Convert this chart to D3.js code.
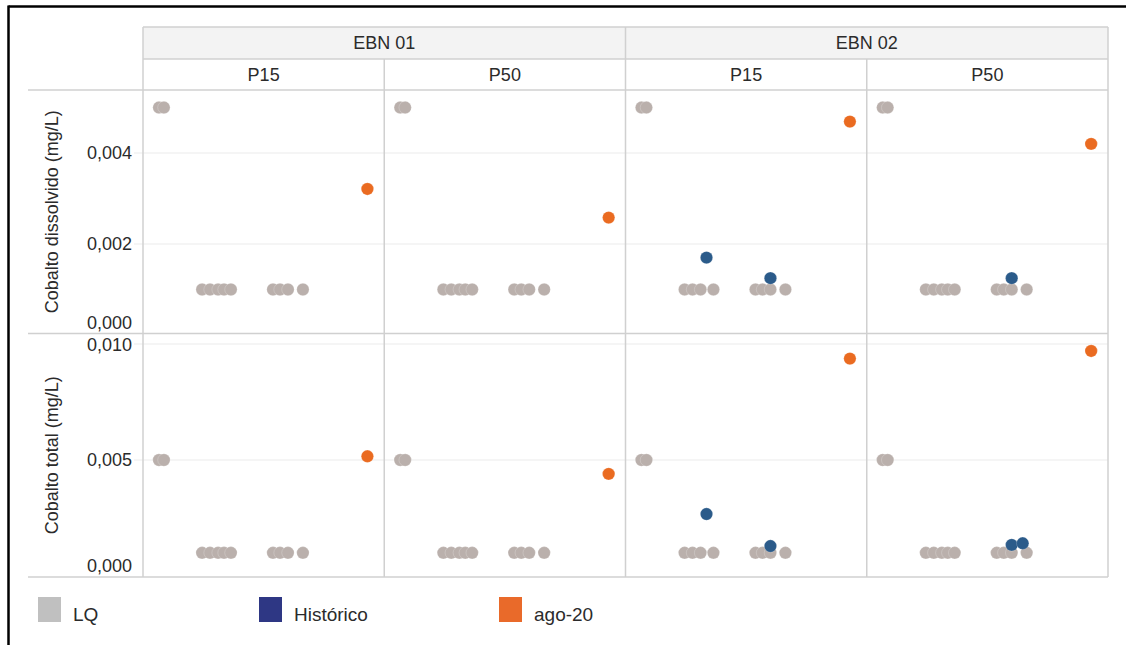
<!DOCTYPE html>
<html>
<head>
<meta charset="utf-8">
<script src="https://cdn.jsdelivr.net/npm/d3@7"></script>
<style>
  body { margin: 0; background: #fff; }
  svg { display: block; font-family: 'Liberation Sans', Arial, sans-serif; }
</style>
</head>
<body>
<script>
// facetas
const stations = ['EBN 01', 'EBN 02'];
const depths = ['P15', 'P50'];
const parameters = ['Cobalto dissolvido (mg/L)', 'Cobalto total (mg/L)'];
const seriesNames = ['LQ', 'Histórico', 'ago-20'];
const yTicks = [[0, 0.002, 0.004], [0, 0.005, 0.010]];

// limites de quantificação (LQ)
const lqHighDates = ['2015-05-26', '2015-07-10'];
const lqHighValue = 0.005;
const lqLowDates = ['2016-06-21', '2016-09-01', '2016-11-13', '2017-01-06', '2017-03-10',
  '2018-03-27', '2018-05-30', '2018-08-10', '2018-12-24'];
const lqLowValue = 0.001;
// datas sem LQ em cada painel (EBN01 P15, EBN01 P50, EBN02 P15, EBN02 P50)
const lqMissing = [[], [], ['2017-01-06'], []];

// resultados históricos acima do LQ
const histRow = [0, 0, 0, 1, 1, 1, 1];
const histPanel = [2, 2, 3, 2, 2, 3, 3];
const histDate = ['2017-01-06', '2018-08-10', '2018-08-10', '2017-01-06', '2018-08-10', '2018-08-10', '2018-11-18'];
const histValue = [0.0017, 0.00125, 0.00125, 0.00267, 0.00129, 0.00134, 0.00141];

// campanha ago-20
const ago20Date = '2020-08-01';
const ago20Values = [
  [0.00321, 0.00258, 0.00469, 0.0042],
  [0.00516, 0.0044, 0.00937, 0.0097]
];

const dotColor = { 'LQ': '#bab0ac', 'Histórico': '#2b5b8a', 'ago-20': '#ea6b21' };
const legendColor = { 'LQ': '#c0c0c0', 'Histórico': '#2e3784', 'ago-20': '#e96a2a' };

const W = 1126, H = 645;
const L = { left: 143, right: 1108, headTop: 27, subTop: 59, top: 90, mid: 333.5, bottom: 577, lineLeft: 28 };
const colW = (L.right - L.left) / 4;
const rowBounds = [[L.top, L.mid], [L.mid, L.bottom]];
const fontSize = 18;
const textColor = '#2b2b2b';
const lineColor = '#d0d0d0';
const gridColor = '#ececec';

const parse = d3.timeParse('%Y-%m-%d');
const svg = d3.select('body').append('svg').attr('width', W).attr('height', H);

const xScales = d3.range(4).map(i => d3.scaleTime(
  [new Date(2015, 0, 1), new Date(2021, 0, 1)],
  [L.left + i * colW, L.left + (i + 1) * colW]));
const yScales = [
  d3.scaleLinear([0, 0.005385], [335, L.top]),
  d3.scaleLinear([0, 0.010453], [576, L.mid])
];
const fmt = v => d3.format('.3f')(v).replace('.', ',');

// moldura
svg.append('line').attr('x1', 8.5).attr('x2', W).attr('y1', 6.5).attr('y2', 6.5)
  .attr('stroke', '#000').attr('stroke-width', 2.5);
svg.append('line').attr('x1', 8.5).attr('x2', 8.5).attr('y1', 5.5).attr('y2', H)
  .attr('stroke', '#000').attr('stroke-width', 2.5);

// cabeçalhos
const head = svg.append('g');
head.selectAll('rect.st')
  .data(stations)
  .join('rect')
    .attr('class', 'st')
    .attr('x', (d, i) => L.left + i * 2 * colW)
    .attr('y', L.headTop)
    .attr('width', 2 * colW)
    .attr('height', L.subTop - L.headTop)
    .attr('fill', '#f3f3f3');
head.selectAll('text.st')
  .data(stations)
  .join('text')
    .attr('class', 'st')
    .attr('x', (d, i) => L.left + (i * 2 + 1) * colW)
    .attr('y', (L.headTop + L.subTop) / 2)
    .attr('dy', '0.35em')
    .attr('text-anchor', 'middle')
    .attr('font-size', fontSize)
    .attr('fill', textColor)
    .text(d => d);
head.selectAll('text.dp')
  .data(d3.range(4))
  .join('text')
    .attr('class', 'dp')
    .attr('x', i => L.left + (i + 0.5) * colW)
    .attr('y', (L.subTop + L.top) / 2)
    .attr('dy', '0.35em')
    .attr('text-anchor', 'middle')
    .attr('font-size', fontSize)
    .attr('fill', textColor)
    .text(i => depths[i % 2]);

// grades
const grid = svg.append('g');
yTicks.forEach((ticks, r) => {
  const y = yScales[r];
  const [top, bottom] = rowBounds[r];
  grid.append('g')
    .selectAll('line')
    .data(ticks.filter(t => t > 0))
    .join('line')
      .attr('x1', L.left - 9).attr('x2', L.right)
      .attr('y1', d => y(d)).attr('y2', d => y(d))
      .attr('stroke', gridColor).attr('stroke-width', 1.2);
  grid.append('g')
    .selectAll('text')
    .data(ticks)
    .join('text')
      .attr('x', 132)
      .attr('y', d => Math.max(top + 11, Math.min(bottom - 11, y(d))))
      .attr('dy', '0.35em')
      .attr('text-anchor', 'end')
      .attr('font-size', fontSize)
      .attr('fill', textColor)
      .text(fmt);
  grid.append('text')
    .attr('transform', `translate(52,${(top + bottom) / 2}) rotate(-90)`)
    .attr('dy', '0.35em')
    .attr('text-anchor', 'middle')
    .attr('font-size', fontSize)
    .attr('fill', textColor)
    .text(parameters[r]);
});

// linhas dos painéis
const frame = svg.append('g').attr('stroke', lineColor).attr('stroke-width', 1.5);
[L.top, L.mid, L.bottom].forEach(y => frame.append('line')
  .attr('x1', L.lineLeft).attr('x2', L.right).attr('y1', y).attr('y2', y));
[L.headTop, L.subTop].forEach(y => frame.append('line')
  .attr('x1', L.left).attr('x2', L.right).attr('y1', y).attr('y2', y));
d3.range(5).forEach(i => frame.append('line')
  .attr('x1', L.left + i * colW).attr('x2', L.left + i * colW)
  .attr('y1', i % 2 === 0 ? L.headTop : L.subTop).attr('y2', L.bottom));

// pontos
const points = [];
[0, 1].forEach(r => {
  d3.range(4).forEach(p => {
    lqHighDates.forEach(d => points.push({ r, p, date: d, value: lqHighValue, s: 'LQ' }));
    lqLowDates.filter(d => !lqMissing[p].includes(d))
      .forEach(d => points.push({ r, p, date: d, value: lqLowValue, s: 'LQ' }));
  });
});
histValue.forEach((v, i) => points.push({ r: histRow[i], p: histPanel[i], date: histDate[i], value: v, s: 'Histórico' }));
ago20Values.forEach((vals, r) => vals.forEach((v, p) => points.push({ r, p, date: ago20Date, value: v, s: 'ago-20' })));

svg.append('g')
  .selectAll('circle')
  .data(points)
  .join('circle')
    .attr('cx', d => xScales[d.p](parse(d.date)))
    .attr('cy', d => yScales[d.r](d.value))
    .attr('r', 6.2)
    .attr('fill', d => dotColor[d.s])
    .attr('stroke', 'rgba(255,255,255,0.35)')
    .attr('stroke-width', 0.6);

// legenda
const legendX = [38, 259, 499];
const legend = svg.append('g')
  .selectAll('g')
  .data(seriesNames)
  .join('g')
    .attr('transform', (d, i) => `translate(${legendX[i]},597)`);
legend.append('rect')
  .attr('width', 23).attr('height', 25)
  .attr('fill', d => legendColor[d]);
legend.append('text')
  .attr('x', 35).attr('y', 17)
  .attr('dy', '0.35em')
  .attr('font-size', 19)
  .attr('fill', textColor)
  .text(d => d);
</script>
</body>
</html>
